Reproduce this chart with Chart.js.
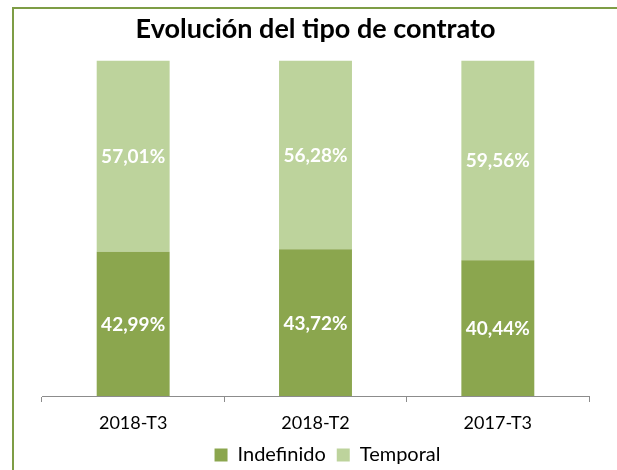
<!DOCTYPE html>
<html>
<head>
<meta charset="utf-8">
<script src="https://cdn.jsdelivr.net/npm/chart.js@4"></script>
<style>
html,body{margin:0;padding:0;background:#fff;}
#wrap{position:relative;width:617px;height:470px;overflow:hidden;}
#frame{position:absolute;left:12px;top:7px;width:640px;height:500px;border:2px solid #7E9D45;box-sizing:border-box;}
canvas{position:absolute;left:0;top:0;}
</style>
</head>
<body>
<div id="wrap"><div id="frame"></div><canvas id="c" width="617" height="470"></canvas></div>
<script>
const categories = ["2018-T3", "2018-T2", "2017-T3"];
const indefinido = [42.99, 43.72, 40.44];
const temporal = [57.01, 56.28, 59.56];
const seriesNames = ["Indefinido", "Temporal"];
const FONT = "Lato, 'Open Sans', sans-serif";

const barLabels = {
  id: 'barLabels',
  afterDatasetsDraw(chart) {
    const ctx = chart.ctx;
    ctx.save();
    ctx.fillStyle = '#ffffff';
    ctx.font = "bold 19px " + FONT;
    ctx.textAlign = 'center';
    ctx.textBaseline = 'middle';
    chart.data.datasets.forEach((ds, di) => {
      const meta = chart.getDatasetMeta(di);
      meta.data.forEach((el, i) => {
        const p = el.getProps(['x', 'y', 'base'], true);
        const txt = ds.data[i].toFixed(2).replace('.', ',') + '%';
        ctx.fillText(txt, p.x, (p.y + p.base) / 2 + 1);
      });
    });
    ctx.restore();
  }
};

const legendShift = {
  id: 'legendShift',
  afterLayout(chart) {
    const lg = chart.legend;
    if (lg) { lg.left += 12; lg.right += 12; }
  }
};

new Chart(document.getElementById('c'), {
  type: 'bar',
  data: {
    labels: categories,
    datasets: [
      { label: seriesNames[0], data: indefinido, backgroundColor: '#8BA64E', borderWidth: 0 },
      { label: seriesNames[1], data: temporal, backgroundColor: '#BDD39C', borderWidth: 0 }
    ]
  },
  options: {
    responsive: false,
    animation: false,
    layout: { padding: { left: 42, right: 28, top: 0, bottom: -5 } },
    datasets: { bar: { categoryPercentage: 1, barPercentage: 0.4 } },
    scales: {
      x: {
        stacked: true,
        grid: { offset: true, drawOnChartArea: false, drawTicks: true, tickLength: 6, color: '#8c8c8c', lineWidth: 1 },
        border: { display: true, color: '#8c8c8c', width: 1 },
        ticks: { color: '#000', font: { family: FONT, size: 18 }, padding: 10 },
        afterFit: (s) => { s.height = 38; }
      },
      y: { stacked: true, display: false, min: 0, max: 100 }
    },
    plugins: {
      title: {
        display: true,
        text: 'Evolución del tipo de contrato',
        color: '#000',
        font: { family: FONT, size: 27, weight: 'bold' },
        padding: { top: 13, bottom: 15 }
      },
      legend: {
        position: 'bottom',
        labels: { color: '#000', font: { family: FONT, size: 20 }, boxWidth: 13, boxHeight: 13, padding: 11 }
      },
      tooltip: { enabled: false }
    }
  },
  plugins: [barLabels, legendShift]
});
</script>
</body>
</html>
